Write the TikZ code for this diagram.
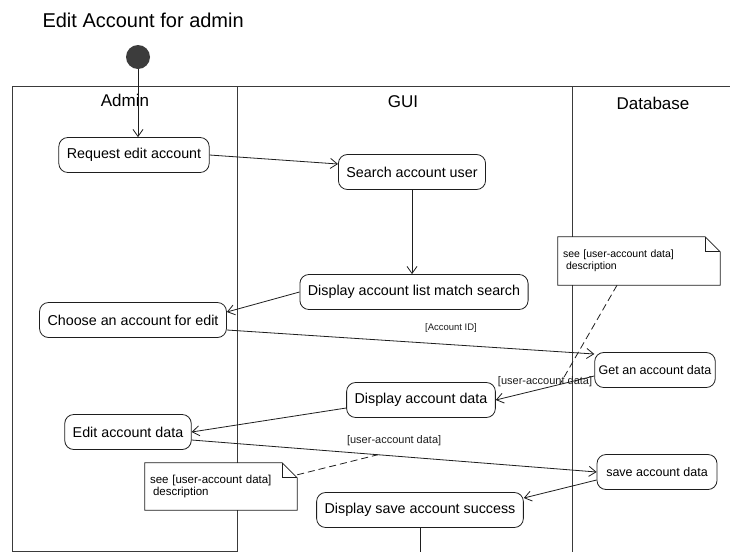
\documentclass[tikz,border=0pt]{standalone}
\usepackage{fontspec}
\setmainfont{Liberation Sans}
\usetikzlibrary{arrows.meta}
\definecolor{SwimLine}{HTML}{3A3A3A}
\definecolor{SwimInk}{HTML}{1E1E1E}
\definecolor{SwimDot}{HTML}{3C3C3C}

\begin{document}
\begin{tikzpicture}[x=1pt,y=-1pt,
    action/.style={draw=SwimInk,line width=0.8pt,rounded corners=9pt,minimum height=35pt,inner xsep=8pt,font=\fontsize{14.3}{16}\selectfont},
    dbaction/.style={action,minimum width=120pt,inner xsep=4pt,font=\fontsize{12.5}{15}\selectfont},
    lane/.style={font=\fontsize{17}{20}\selectfont},
    flow/.style={SwimInk,line width=0.8pt,-{Straight Barb[length=7pt,width=10pt]}},
    guard/.style={font=\fontsize{9.5}{11}\selectfont,inner sep=1pt},
    dataguard/.style={guard,font=\fontsize{11}{12}\selectfont},
    notebox/.style={fill=white,align=left,inner xsep=5pt,font=\fontsize{10.5}{12}\selectfont},
    noteline/.style={SwimInk,line width=0.7pt},
    anchorline/.style={SwimInk,line width=0.8pt,dash pattern=on 7pt off 4pt}]
      \useasboundingbox (0,0) rectangle (730,552);
      \fill[white] (0,0) rectangle (730,552);
      \draw[SwimLine,line width=0.8pt] (730,86) -- (12,86) -- (12,551) -- (237,551);
      \draw[SwimLine,line width=0.8pt] (237,86) -- (237,552);
      \draw[SwimLine,line width=0.8pt] (572,86) -- (572,552);
      \node[anchor=west,font=\fontsize{20}{24}\selectfont] (title) at (39,20) {Edit Account for admin};
      \node[lane] (admin) at (125,100) {Admin};
      \node[lane] (gui) at (403,102) {GUI};
      \node[lane] (database) at (653,103) {Database};
      \node[circle,fill=SwimDot,minimum size=24pt,inner sep=0pt] (start) at (138,57) {};
      \node[action] (req) at (134,155) {Request edit account};
      \node[action] (search) at (412,172) {Search account user};
      \node[action] (list) at (414,292) {Display account list match search};
      \node[action] (choose) at (133,320) {Choose an account for edit};
      \node[dbaction] (get) at (655,370) {Get an account data};
      \node[action] (disp) at (421,400) {Display account data};
      \node[action] (edit) at (128,432) {Edit account data};
      \node[dbaction] (save) at (657,472) {save account data};
      \node[action] (succ) at (420,510) {Display save account success};
      \coordinate (succend) at (420,552);
      \draw[flow] (start) -- (start |- req.north);
      \draw[flow] (req.east) -- ([yshift=8pt]search.west);
      \draw[flow] (search.south) -- (search.south |- list.north);
      \draw[flow] (list.west) -- ([yshift=8pt]choose.east);
      \draw[flow] ([yshift=-10pt]choose.east) -- node[guard,pos=0.61,yshift=17pt] (accid) {[Account ID]} ([yshift=16pt]get.west);
      \draw[flow] ([yshift=-6pt]get.west) -- coordinate[pos=0.35] (gd) node[dataguard,pos=0.5,yshift=6pt] (uad1) {[user-account data]} (disp.east);
      \draw[flow] ([yshift=-8pt]disp.west) -- (edit.east);
      \draw[flow] ([yshift=-8pt]edit.east) -- coordinate[pos=0.46] (es) node[dataguard,pos=0.5,yshift=15pt] (uad2) {[user-account data]} (save.west);
      \draw[flow] ([yshift=-8pt]save.west) -- ([yshift=12pt]succ.east);
      \draw[SwimInk,line width=0.8pt] (succ.south) -- (succend);
      \node[notebox,text width=152pt,minimum height=48pt] (note1) at (639,261) {see [user-account data]\\\hspace{3pt}description};
      \draw[noteline] (note1.north west) -- ([xshift=-15pt]note1.north east) -- ([yshift=-15pt]note1.north east) -- (note1.south east) -- (note1.south west) -- cycle;
      \draw[noteline] ([xshift=-15pt]note1.north east) |- ([yshift=-15pt]note1.north east);
      \node[notebox,text width=142pt,minimum height=47pt,font=\fontsize{11.5}{12.5}\selectfont] (note2) at (221,486.5) {see [user-account data]\\\hspace{3pt}description};
      \draw[noteline] (note2.north west) -- ([xshift=-15pt]note2.north east) -- ([yshift=-15pt]note2.north east) -- (note2.south east) -- (note2.south west) -- cycle;
      \draw[noteline] ([xshift=-15pt]note2.north east) |- ([yshift=-15pt]note2.north east);
      \draw[anchorline] ([xshift=-22pt]note1.south) -- (gd);
      \draw[anchorline] ([yshift=-12pt]note2.north east) -- (es);
    \end{tikzpicture}
\end{document}
